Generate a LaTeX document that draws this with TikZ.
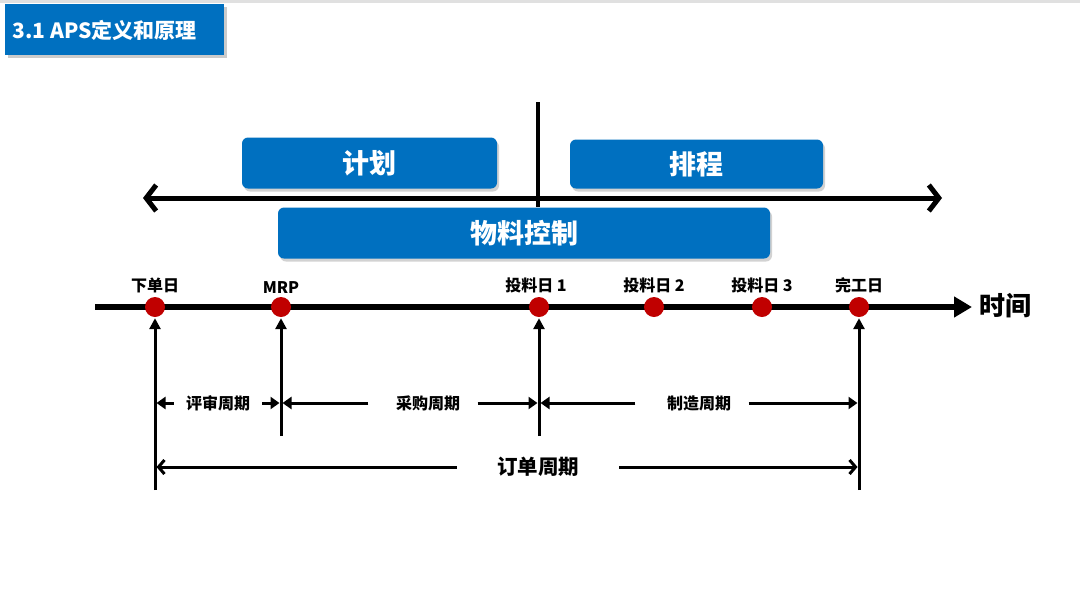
\documentclass[tikz,border=0pt]{standalone}
\usepackage{fontspec}
\setmainfont{Noto Sans CJK SC}
\usetikzlibrary{arrows.meta,shadows}
\definecolor{apsblue}{HTML}{0070C0}
\definecolor{dotred}{HTML}{C00000}
\tikzset{
  bluebox/.style={fill=apsblue, rounded corners=6pt, text=white, font=\bfseries\fontsize{27}{27}\selectfont,
    drop shadow={shadow xshift=2pt, shadow yshift=-3pt, fill=black!35}},
  reddot/.style={circle, fill=dotred, minimum size=20pt, inner sep=0pt},
  daylabel/.style={font=\bfseries\fontsize{16}{16}\selectfont},
  cyclabel/.style={font=\bfseries\fontsize{16}{16}\selectfont, inner ysep=0pt},
  uparrow/.style={line width=3pt, -{Triangle[length=11pt,width=11pt]}, shorten >=1pt},
  dimarrow/.style={line width=3pt, -{Triangle[length=9pt,width=12pt]}, shorten >=1.5pt},
  longarrow/.style={line width=3pt, -{Straight Barb[length=6pt,width=14pt]}, shorten >=1.5pt}
}
\begin{document}
\begin{tikzpicture}[x=1pt,y=-1pt]
  \useasboundingbox[fill=white] (0,0) rectangle (1080,606);
  \fill[black!12] (0,0) rectangle (1080,3);
  % title bar
  \node[fill=apsblue, minimum width=219pt, minimum height=51pt, anchor=north west,
    drop shadow={shadow xshift=3pt, shadow yshift=-3pt, fill=black!40}] (title) at (5,4) {};
  \node[anchor=west, text=white, font=\bfseries\fontsize{21}{21}\selectfont] at (9,30) {3.1 APS定义和原理};
  % plan / schedule axis
  \coordinate (divtop) at (538,102);
  \coordinate (divbot) at (538,207);
  \coordinate (axl) at (143,198);
  \coordinate (axr) at (942,198);
  \draw[line width=4pt] (divtop) -- (divbot);
  \draw[line width=5pt, {Straight Barb[length=10pt,width=26pt]}-{Straight Barb[length=10pt,width=26pt]}] (axl) -- (axr);
  \node[bluebox, minimum width=255pt, minimum height=51pt] (plan) at (369.5,163) {计划};
  \node[bluebox, minimum width=253pt, minimum height=49pt] (sched) at (696.5,164) {排程};
  \node[bluebox, minimum width=492pt, minimum height=51pt] (mat) at (524,233) {物料控制};
  % time line
  \coordinate (tstart) at (95,307);
  \coordinate (tend) at (972,307);
  \draw[line width=6pt, -{Triangle[length=18pt,width=20pt]}] (tstart) -- (tend);
  \node[anchor=west, font=\bfseries\fontsize{26}{26}\selectfont] (time) at (976,306) {时间};
  \node[reddot, label={[daylabel]above:下单日}] (order) at (155,307) {};
  \node[reddot, label={[daylabel]above:MRP}] (mrp) at (281,307) {};
  \node[reddot, label={[daylabel, xshift=-3pt]above:投料日 1}] (feed1) at (539,307) {};
  \node[reddot, label={[daylabel]above:投料日 2}] (feed2) at (654,307) {};
  \node[reddot, label={[daylabel]above:投料日 3}] (feed3) at (762,307) {};
  \node[reddot, label={[daylabel]above:完工日}] (done) at (859,307) {};
  % vertical markers
  \coordinate (orderb) at (155,490);
  \coordinate (mrpb) at (281,436);
  \coordinate (feedb) at (539,436);
  \coordinate (doneb) at (859,490);
  \draw[uparrow] (orderb) -- (order);
  \draw[uparrow] (mrpb) -- (mrp);
  \draw[uparrow] (feedb) -- (feed1);
  \draw[uparrow] (doneb) -- (done);
  % cycles
  \coordinate (d1) at (155,403);
  \coordinate (d2) at (281,403);
  \coordinate (d3) at (539,403);
  \coordinate (d4) at (859,403);
  \coordinate (e1) at (155,467);
  \coordinate (e2) at (859,467);
  \node[cyclabel, inner xsep=12pt] (review) at (218,403) {评审周期};
  \draw[dimarrow] (review) -- (d1);
  \draw[dimarrow] (review) -- (d2);
  \node[cyclabel] (buy) at (428,403) {采购周期};
  \path (buy.west) ++(-24pt,0) coordinate (buyl) (buy.east) ++(14pt,0) coordinate (buyr);
  \draw[dimarrow] (buyl) -- (d2);
  \draw[dimarrow] (buyr) -- (d3);
  \node[cyclabel] (make) at (699,403) {制造周期};
  \path (make.west) ++(-28pt,0) coordinate (makel) (make.east) ++(14pt,0) coordinate (maker);
  \draw[dimarrow] (makel) -- (d3);
  \draw[dimarrow] (maker) -- (d4);
  \node[cyclabel, font=\bfseries\fontsize{20.5}{20.5}\selectfont, inner xsep=40pt] (total) at (538,467) {订单周期};
  \draw[longarrow] (total) -- (e1);
  \draw[longarrow] (total) -- (e2);
\end{tikzpicture}
\end{document}
